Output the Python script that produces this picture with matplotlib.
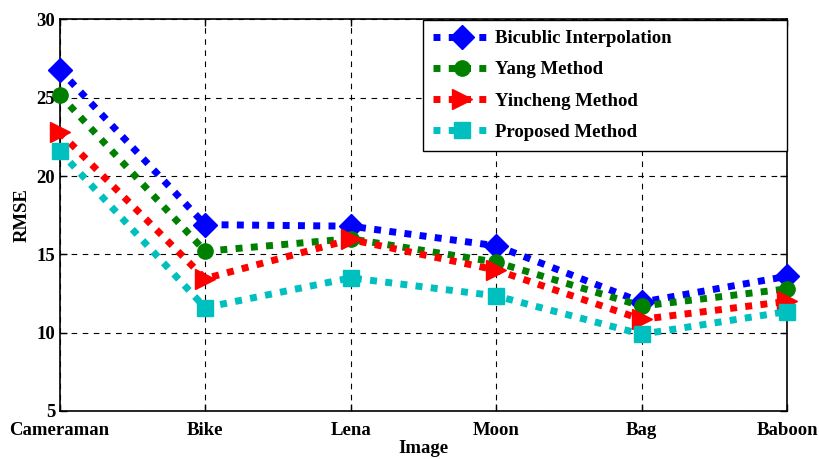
import matplotlib
matplotlib.use("Agg")
import matplotlib.pyplot as plt

plt.rcParams['font.family'] = ['Liberation Serif', 'DejaVu Serif']
plt.rcParams['font.weight'] = 'bold'

images = ["Cameraman", "Bike", "Lena", "Moon", "Bag", "Baboon"]
bicubic = [26.8, 16.9, 16.8, 15.55, 11.95, 13.6]
yang = [25.2, 15.2, 16.0, 14.5, 11.7, 12.8]
yincheng = [22.8, 13.45, 15.95, 14.0, 10.85, 12.0]
proposed = [21.6, 11.6, 13.5, 12.35, 9.9, 11.35]

fig = plt.figure(figsize=(8.2, 4.59), dpi=100)
ax = fig.add_axes([0.0726, 0.1046, 0.8874, 0.853])

x = list(range(len(images)))
series = [
    (bicubic, "b", "D", 12, "Bicublic Interpolation"),
    (yang, "g", "o", 11, "Yang Method"),
    (yincheng, "r", ">", 14, "Yincheng Method"),
    (proposed, "c", "s", 11, "Proposed Method"),
]
for vals, c, m, ms, lab in series:
    ax.plot(x, vals, color=c, linestyle=(0, (1, 1.2)), linewidth=5,
            dash_capstyle="butt", marker=m, markersize=ms,
            markerfacecolor=c, markeredgecolor=c, label=lab, clip_on=False,
            zorder=3)

ax.set_xlim(0, 5)
ax.set_ylim(5, 30)
ax.set_xticks(x)
ax.set_xticklabels(images)
ax.set_yticks([5, 10, 15, 20, 25, 30])
ax.tick_params(direction="in", labelsize=13.5, length=5, width=1, pad=3)
ax.tick_params(axis="x", pad=8)
ax.tick_params(top=True, right=True)
ax.grid(True, color="black", linestyle=(0, (5, 5)), linewidth=0.8)
for s in ax.spines.values():
    s.set_linewidth(1.2)

ax.set_xlabel("Image", fontsize=13.5, fontweight="bold", labelpad=1)
ax.set_ylabel("RMSE", fontsize=13.5, fontweight="bold", labelpad=4)

leg = ax.legend(loc="upper left", bbox_to_anchor=(0.4997, 0.6616, 0.5003, 0.3374),
                mode="expand", fontsize=13.5, handlelength=3.0, fancybox=False,
                edgecolor="black", framealpha=1, borderaxespad=0,
                labelspacing=0.75, borderpad=0.55, handletextpad=0.3)
leg.get_frame().set_linewidth(1.0)
leg.set_zorder(5)

fig.savefig("out.png", dpi=100)
